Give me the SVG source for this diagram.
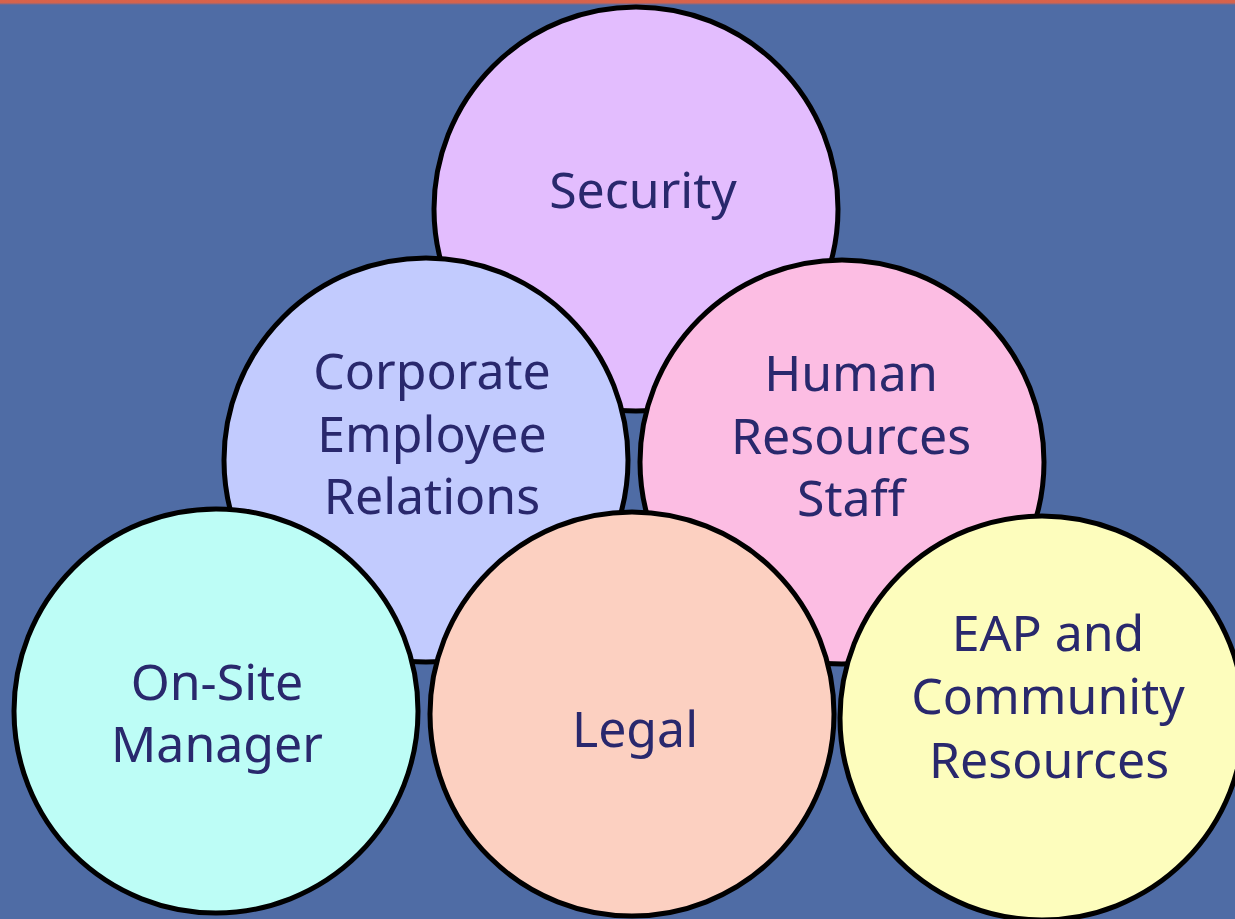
<svg xmlns="http://www.w3.org/2000/svg" width="1235" height="919" viewBox="0 0 1235 919">
  <defs>
    <linearGradient id="topBand" x1="0" y1="0" x2="0" y2="1">
      <stop offset="0" stop-color="#da6248"/>
      <stop offset="0.55" stop-color="#d3634e"/>
      <stop offset="1" stop-color="#4f6ca5"/>
    </linearGradient>
    <style>
      .ring { stroke: #000; stroke-width: 5; }
      .label { font-family: "Noto Sans", "DejaVu Sans", sans-serif; font-size: 50px; fill: #29286d; text-anchor: middle; }
    </style>
  </defs>

  <!-- background -->
  <rect x="0" y="0" width="1235" height="919" fill="#4f6ca5"/>
  <rect x="0" y="0" width="1235" height="5" fill="url(#topBand)"/>

  <!-- top row -->
  <g id="security">
    <circle class="ring" cx="636" cy="209" r="202" fill="#e3bdfe"/>
    <text class="label" x="643" y="208">Security</text>
  </g>

  <!-- middle row -->
  <g id="corporate-employee-relations">
    <circle class="ring" cx="426" cy="460" r="202" fill="#c2cbfe"/>
    <text class="label" x="432" y="389">Corporate</text>
    <text class="label" x="432" y="452">Employee</text>
    <text class="label" x="432" y="514">Relations</text>
  </g>
  <g id="human-resources-staff">
    <circle class="ring" cx="842" cy="462" r="202" fill="#fcbde3"/>
    <text class="label" x="851" y="391">Human</text>
    <text class="label" x="851" y="454">Resources</text>
    <text class="label" x="851" y="516">Staff</text>
  </g>

  <!-- bottom row -->
  <g id="on-site-manager">
    <circle class="ring" cx="216" cy="711" r="202" fill="#bdfdf6"/>
    <text class="label" x="217" y="700">On-Site</text>
    <text class="label" x="217" y="762">Manager</text>
  </g>
  <g id="legal">
    <circle class="ring" cx="632" cy="714" r="202" fill="#fcd0c1"/>
    <text class="label" x="635" y="747">Legal</text>
  </g>
  <g id="eap-community-resources">
    <circle class="ring" cx="1042" cy="718" r="202" fill="#fdfdbd"/>
    <text class="label" x="1048" y="651">EAP and</text>
    <text class="label" x="1048" y="714">Community</text>
    <text class="label" x="1049" y="778">Resources</text>
  </g>

  <!-- no connectors in this layout -->
  <g id="connectors"/>
</svg>
